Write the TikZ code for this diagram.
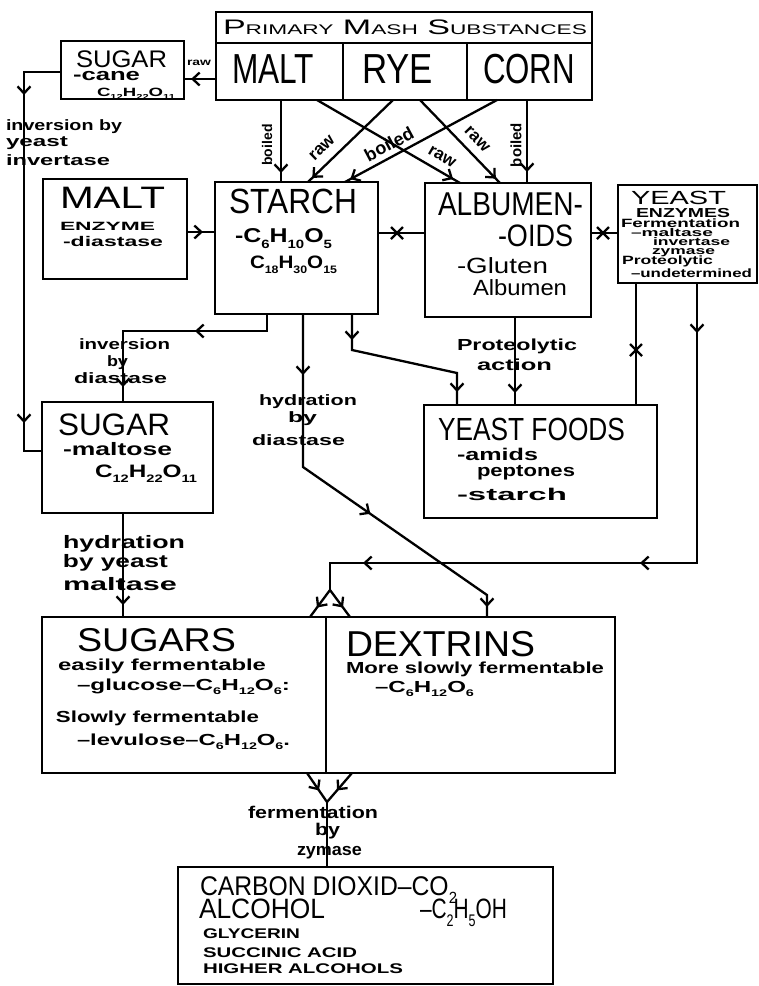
\documentclass[tikz,border=0pt]{standalone}
\usepackage{fontspec}
\setmainfont{Liberation Sans}
\usepackage{graphicx}
\usetikzlibrary{arrows.meta,decorations.markings}
\newcounter{tn}
\newcommand\T[5]{\stepcounter{tn}\node[txt] (t\arabic{tn}) at (#1,#2) {\resizebox{#3pt}{\height}{\fontsize{#4}{#4}\selectfont #5}};}
\newcommand\R[5]{\stepcounter{tn}\node[inner sep=0pt, rotate=#3] (t\arabic{tn}) at (#1,#2) {\fontsize{#4}{#4}\selectfont\bfseries #5};}
\newcommand\sbs[1]{\raisebox{-0.3em}{\scalebox{0.6}{#1}}}
\newcommand\smc[1]{{\fontsize{14}{14}\selectfont #1}}
\newcommand\B[5]{\node[box, minimum width={#4-#2}, minimum height={#5-#3}] (#1) at ({(#2+#4)/2},{(#3+#5)/2}) {};}
\tikzset{
 txt/.style={anchor=base west, inner sep=0pt, outer sep=0pt},
 box/.style={draw, line width=2.6pt, inner sep=0pt, outer sep=0pt},
 conn/.style={line width=2.3pt, line join=miter},
 tipat/.style={postaction={decorate, decoration={markings, mark=at position #1 with {\arrow{Straight Barb[length=7pt,width=13pt]}}}}},
 xat/.style={postaction={decorate, decoration={markings, mark=at position #1 with {\draw[line width=2.3pt] (-6pt,-6pt)--(6pt,6pt) (-6pt,6pt)--(6pt,-6pt);}}}},
}
\begin{document}
\begin{tikzpicture}[x=1pt,y=-1pt]
\useasboundingbox (0,0) rectangle (759,986);
\fill[white] (0,0) rectangle (759,986);
% boxes
\B{pmh}{216}{12}{592}{43}
\B{malt}{216}{43}{343}{100}
\B{rye}{343}{43}{467}{100}
\B{corn}{467}{43}{592}{100}
\B{cane}{61}{41}{184}{99}
\B{maltenz}{43}{179}{187}{279}
\B{starch}{215}{182}{378}{314}
\B{alb}{425}{183}{591}{317}
\B{yeast}{618}{185}{757}{283}
\B{maltose}{42}{402}{213}{513}
\B{yf}{424}{405}{657}{518}
\B{sugars}{42}{617}{326}{773}
\B{dextrins}{326}{617}{615}{773}
\B{prod}{178}{867}{553}{984}
% texts
\T{223}{34}{364}{21}{P\smc{RIMARY} M\smc{ASH} S\smc{UBSTANCES}}
\T{232}{83}{82}{42}{MALT}
\T{362}{83}{71}{42}{RYE}
\T{483}{83}{92}{42}{CORN}
\T{76}{67}{91}{24}{SUGAR}
\T{73}{80}{67}{17}{\bfseries -cane}
\T{97}{96}{78}{12}{\bfseries C\sbs{12}H\sbs{22}O\sbs{11}}
\T{187}{65}{24}{10}{\bfseries raw}
\T{6}{130}{116}{15}{\bfseries inversion by}
\T{6}{146}{62}{15}{\bfseries yeast}
\T{6}{165}{104}{15}{\bfseries invertase}
\T{60}{208}{105}{31}{MALT}
\T{60}{230}{95}{12}{\bfseries ENZYME}
\T{63}{246}{100}{14}{\bfseries -diastase}
\T{229}{213}{128}{35}{STARCH}
\T{235}{242}{97}{20}{\bfseries -C\sbs{6}H\sbs{10}O\sbs{5}}
\T{250}{268}{87}{18}{\bfseries C\sbs{18}H\sbs{30}O\sbs{15}}
\T{438}{215}{145}{33}{ALBUMEN-}
\T{498}{246}{75}{31}{-OIDS}
\T{457}{273}{91}{22}{-Gluten}
\T{473}{295}{94}{22}{Albumen}
\T{631}{204}{95}{19}{YEAST}
\T{636}{217}{94}{13}{\bfseries ENZYMES}
\T{621}{227}{119}{12}{\bfseries Fermentation}
\T{631}{236}{82}{11}{\bfseries –maltase}
\T{653}{245}{77}{11}{\bfseries invertase}
\T{652}{254}{63}{11}{\bfseries zymase}
\T{622}{264}{91}{12}{\bfseries Proteolytic}
\T{631}{277}{121}{12}{\bfseries –undetermined}
\T{79}{349}{91}{15}{\bfseries inversion}
\T{107}{366}{21}{15}{\bfseries by}
\T{74}{383}{93}{15}{\bfseries diastase}
\T{259}{405}{98}{15}{\bfseries hydration}
\T{288}{422}{29}{15}{\bfseries by}
\T{252}{445}{93}{15}{\bfseries diastase}
\T{457}{350}{120}{16}{\bfseries Proteolytic}
\T{477}{370}{75}{16}{\bfseries action}
\T{58}{435}{112}{31}{SUGAR}
\T{63}{455}{109}{18}{\bfseries -maltose}
\T{95}{477}{102}{18}{\bfseries C\sbs{12}H\sbs{22}O\sbs{11}}
\T{438}{440}{187}{32}{YEAST FOODS}
\T{457}{460}{81}{17}{\bfseries -amids}
\T{477}{476}{98}{17}{\bfseries peptones}
\T{457}{500}{110}{17}{\bfseries -starch}
\T{63}{548}{122}{18}{\bfseries hydration}
\T{63}{567}{105}{18}{\bfseries by yeast}
\T{63}{590}{114}{18}{\bfseries maltase}
\T{77}{651}{159}{33}{SUGARS}
\T{58}{670}{208}{16}{\bfseries easily fermentable}
\T{77}{690}{213}{16}{\bfseries –glucose–C\sbs{6}H\sbs{12}O\sbs{6}:}
\T{56}{722}{203}{16}{\bfseries Slowly fermentable}
\T{77}{745}{213}{16}{\bfseries –levulose–C\sbs{6}H\sbs{12}O\sbs{6}.}
\T{346}{656}{189}{36}{DEXTRINS}
\T{346}{673}{258}{16}{\bfseries More slowly fermentable}
\T{375}{692}{99}{16}{\bfseries –C\sbs{6}H\sbs{12}O\sbs{6}}
\T{248}{818}{130}{17}{\bfseries fermentation}
\T{315}{835}{25}{17}{\bfseries by}
\T{297}{855}{65}{17}{\bfseries zymase}
\T{200}{895}{257}{27}{CARBON DIOXID–CO\sbs{2}}
\T{199}{918}{126}{28}{ALCOHOL}
\T{420}{918}{87}{28}{–C\sbs{2}H\sbs{5}OH}
\T{203}{938}{97}{14}{\bfseries GLYCERIN}
\T{203}{957}{154}{14}{\bfseries SUCCINIC ACID}
\T{203}{973}{200}{14}{\bfseries HIGHER ALCOHOLS}
% rotated labels
\R{267}{145}{90}{14}{boiled}
\R{322}{148}{44}{17}{raw}
\R{389}{144}{28}{18}{boiled}
\R{442}{157}{-30}{17}{raw}
\R{477}{139}{-46}{17}{raw}
\R{516}{145}{90}{15}{boiled}
% connectors
\draw[conn, tipat=25pt] (malt.west |- 0,79) -- (cane.east |- 0,79);
\draw[conn, tipat=60pt, tipat=388pt] (cane.west |- 0,72) -| (24,451) -- (maltose.west |- 0,451);
\draw[conn, tipat=16pt] (maltenz.east |- 0,232) -- (starch.west |- 0,232);
\draw[conn, xat=19pt] (starch.east |- 0,233) -- (alb.west |- 0,233);
\draw[conn, xat=12pt] (alb.east |- 0,233) -- (yeast.west |- 0,233);
\draw[conn, tipat=-9pt] (281,0 |- malt.south) -- (281,0 |- starch.north);
\draw[conn, tipat=-8pt] (317,0 |- malt.south) -- (460,0 |- alb.north);
\draw[conn, tipat=-6pt] (393,0 |- rye.south) -- (308,0 |- starch.north);
\draw[conn, tipat=-6pt] (420,0 |- rye.south) -- (500,0 |- alb.north);
\draw[conn, tipat=-6pt] (497,0 |- corn.south) -- (345,0 |- starch.north);
\draw[conn, tipat=-11pt] (527,0 |- corn.south) -- (527,0 |- alb.north);
\draw[conn, tipat=89pt, tipat=217pt] (267,0 |- starch.south) |- (123,331) -- (123,0 |- maltose.north);
\draw[conn, tipat=61pt, tipat=235pt, tipat=-10pt] (303,0 |- starch.south) -- (303,467) -- (487,595) -- (487,0 |- dextrins.north);
\draw[conn, tipat=26pt, tipat=-13pt] (352,0 |- starch.south) -- (352,350) -- (457,373) -- (457,0 |- yf.north);
\draw[conn, tipat=-12pt] (515,0 |- alb.south) -- (515,0 |- yf.north);
\draw[conn, xat=67pt] (636,0 |- yeast.south) -- (636,0 |- yf.north);
\coordinate (fk) at (330,590);
\draw[conn, tipat=50pt, tipat=337pt, tipat=614pt] (697,0 |- yeast.south) |- (330,563) -- (fk);
\draw[conn, tipat=0.65] (fk) -- (310,0 |- sugars.north);
\draw[conn, tipat=0.65] (fk) -- (350,0 |- dextrins.north);
\draw[conn, tipat=-12pt] (123,0 |- maltose.south) -- (123,0 |- sugars.north);
\coordinate (fk2) at (327,802);
\draw[conn, tipat=0.6] (307,0 |- sugars.south) -- (fk2);
\draw[conn, tipat=0.6] (352,0 |- dextrins.south) -- (fk2);
\draw[conn] (fk2) -- (327,0 |- prod.north);
\end{tikzpicture}
\end{document}
